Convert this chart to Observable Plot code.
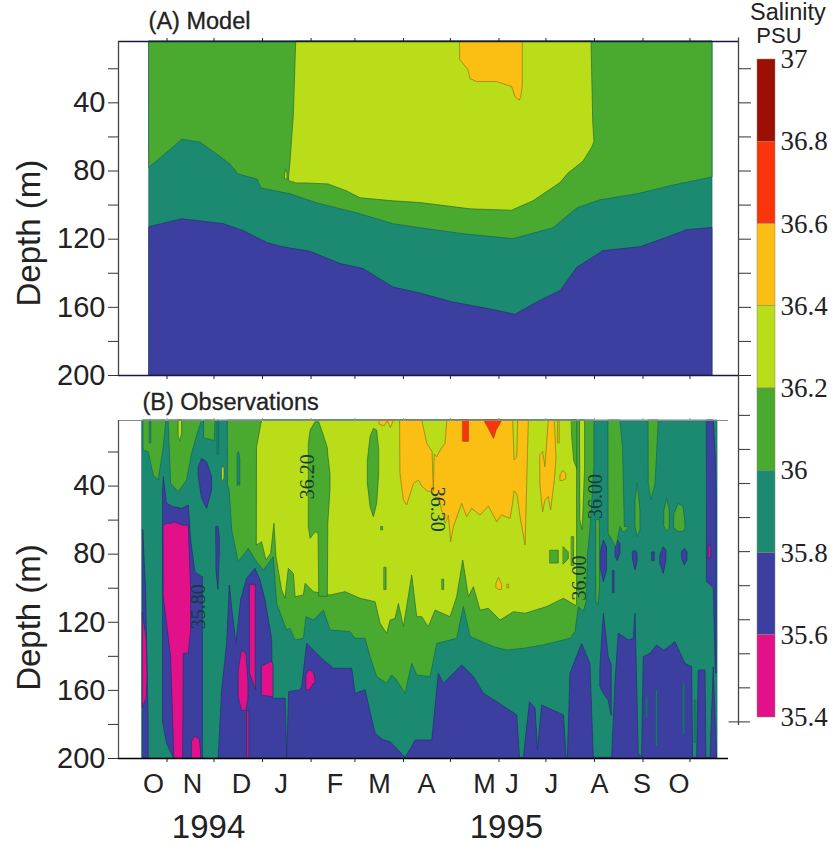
<!DOCTYPE html>
<html>
<head>
<meta charset="utf-8">
<script src="https://cdn.jsdelivr.net/npm/d3@7"></script>
<script src="https://cdn.jsdelivr.net/npm/@observablehq/plot@0.6"></script>
<style>
html,body{margin:0;padding:0;background:#fff;}
#chart{position:relative;width:833px;height:844px;overflow:hidden;}
</style>
</head>
<body>
<div id="chart"></div>
<script>
// x = days since 1 Oct 1994, depth in metres; every feature lists [day, upper depth, lower depth]
const monthStarts = [31,61,92,123,151,182,212,243,273,304,335,365];
const monthLabels = ["O","N","D","J","F","M","A","M","J","J","A","S","O"];
const monthLabelDays = [22.4,47.3,78.6,104,138.3,166.7,196.7,233.8,251.3,276.6,307.2,334.4,358];
const years = ["1994","1995"];
const yearDays = [57.5,247.8];
const depthTicks = [20,40,60,80,100,120,140,160,180,200];

const LEVELS = [37,36.8,36.6,36.4,36.2,36,35.8,35.6,35.4];
const levelLabels = ["37","36.8","36.6","36.4","36.2","36","35.8","35.6","35.4"];
const C = {dark:"#9c0f05",red:"#fb340c",orange:"#fbbe12",lime:"#b9dd18",green:"#4aa92f",teal:"#1b8a70",blue:"#3c3f9f",pink:"#e2118a"};
const bandColors = [C.dark,C.red,C.orange,C.lime,C.green,C.teal,C.blue,C.pink];

// Panel A (model)
const modelBase = [[19.8,4,200],[379.4,4,200]];
const modelGreen = [[19.8,4,78],[26.8,4,72.7],[40.9,4,61.6],[52.4,4,63.4],[63.2,4,70.4],[71.5,4,76.2],[76.6,4,82],[88.8,4,85],[91.3,4,90.2],[109.9,4,93.7],[127,4,99],[154.6,4,105.4],[175.6,4,111.2],[192.9,4,113.6],[220.4,4,117.1],[252.3,4,120],[277.8,4,113.6],[293.2,4,101.9],[307.8,4,97.2],[331.5,4,93.7],[354.5,4,88.5],[379.4,4,83.8]];
const modelBlue = [[19.8,113,200],[40.9,108.3,200],[67.2,111.2,200],[80,115.3,200],[94.9,122.2,200],[105,124.7,200],[122.6,127.4,200],[141.8,134.6,200],[156.5,137.5,200],[175.6,148.4,200],[192.9,151.9,200],[214,157.2,200],[235.7,160.9,200],[253.5,164.4,200],[267.4,157.2,200],[282.4,150.4,200],[293,136.8,200],[309.8,127,200],[333.4,124.7,200],[350.4,119.2,200],[363,114.7,200],[379.4,113.4,200]];
const modelLime = [[108.8,85,85],[109.9,74.5,86.5],[112,47,86.7],[113.5,4,87.3],[120.5,4,87.3],[134.2,4,87.9],[146.1,4,92],[154.6,4,96],[175.6,4,97.8],[192.9,4,98.8],[224.8,4,102.5],[251.4,4,103.3],[265,4,97.8],[282.3,4,87.1],[287.4,4,81.5],[297,4,74.5],[302.1,4,67],[303.2,51,65],[304,62.8,62.8]];
const modelLimeSpeck = [[106.2,84,84],[107,79,85],[108,81.5,85]];
const modelOrange = [[218.4,4,15],[223.5,4,20.8],[224.8,4,26],[229,4,27.8],[241.8,4,27.8],[251.4,4,30.7],[253.5,4,36.5],[256.3,4,38.8],[257.3,4,36.5],[258.2,4,30]];

// Panel B (observations)
const obsBase = [[15.3,1.5,200],[382.6,1.5,200]];
const obsBlueMain = [[64,200,200],[66.2,160,200],[69.4,132.6,200],[71.1,98.4,200],[72.8,113,200],[75.3,132.6,200],[78.3,107.2,200],[82.1,94.5,200],[87.5,88.6,200],[90.7,95.5,200],[93.9,107.2,200],[98.1,129.7,200],[98.7,164.9,200],[105.6,164.9,200],[106.8,165,200],[107.7,200,200],[109,161,200],[116.2,160,200],[117.3,158,200],[120.5,132.7,200],[124.8,136.6,200],[130.1,141.5,200],[137.6,147.3,200],[149.3,147.3,200],[151.4,162,200],[157.8,160,200],[164.2,185.5,200],[169.5,189.4,200],[173.8,190.4,200],[183.3,199.6,200],[187.6,193.3,200],[189.7,189.4,200],[200.4,189.4,200],[204.6,150.3,200],[207.8,156.1,200],[219.5,145.4,200],[227,152.2,200],[233.4,162,200],[241.9,166.9,200],[254.7,174.7,200],[256.4,199.6,200],[258.9,199.6,200],[262.8,166.9,200],[266.4,170.8,200],[267.9,195.3,200],[270.6,168.9,200],[284.5,174.7,200],[286.2,199.6,200],[287,199.6,200],[288.7,150.3,200],[296.1,132.7,200],[301.4,144.4,200],[303.6,199.6,200],[304.6,199.6,200],[315.3,199.6,200],[317.4,156,200],[319.5,126.8,200],[322.7,128.7,200],[325.9,130.7,200],[329.1,129.7,200],[330.2,115,200],[332.3,197.2,200],[334.4,199.6,200],[335.5,140.5,200],[339.8,138.5,200],[344,133.6,200],[348.3,136.6,200],[350.4,135.6,200],[355.7,131.7,200],[362.1,144.4,200],[366.4,146.4,200],[367,199.6,200],[369.6,199.6,200],[370.6,148.3,200],[374.9,148.3,200],[375.5,199.6,200],[378.1,199.6,200],[380.2,146.4,200],[382.3,199.6,200]];
const obsBlueOther = [
  [[15.8,66,200],[17.6,101,200],[19.3,179.6,200]],
  [[28.5,42.6,179.6],[28.9,34.8,180.6],[31,50.4,191.3],[35.3,52.4,200],[40.6,53.4,200],[44.9,51.4,200],[46.4,72,200],[49.1,90.6,200],[53.4,93.5,200],[53.9,93.5,200]],
  [[51.3,28.9,34.8],[53.4,24,47.5],[56.6,26,53.4],[59.8,34.8,42.6]],
  [[62.6,64,90],[63.8,64,101],[64.7,70,80]],
  [[307.8,146.4,158],[310,115,162],[313.1,140.5,166],[315,145,175]],
  [[376,1.5,96.5],[378.5,1.5,98.5],[380.2,1.5,100],[381.5,23,150],[382.1,50,150]],
  [[307.8,79.8,87.6],[310,72,96.5],[312,75.9,89.6]],
  [[317.6,75.9,81.8],[318.9,72,84],[320.6,74,79.8]],
  [[316,90,103],[316.8,90,103]],
  [[328.7,78.8,83.7],[330.2,77.9,89.6],[331.5,79.8,84.7]],
  [[341,79,84],[342.5,79,84]],
  [[346.1,80.8,85.7],[348.3,75.9,91.6],[350,77.9,83.7]],
  [[360,78.8,82.8],[361.7,76.9,86.7],[363.4,78.8,83.7]]
];
const obsTealSlits = [
  [[337.3,164,176],[338,164,176]],
  [[343.6,160,193],[344.3,160,193]],
  [[361,156,186],[361.7,156,186]],
  [[368.3,166,191],[369,166,191]],
  [[76.2,21,40],[77,20,38],[77.8,24,40]],
  [[20.2,1.5,15],[20.9,1.5,15]],
  [[63.5,1.5,22],[64.3,1.5,22]]
];
const obsPink = [
  [[15.5,115,170],[18,130,165],[18.5,150,152]],
  [[28.9,63.2,105],[31,62.2,120.9],[33.6,62.2,140.5],[35.7,61.2,200],[41.3,63.2,200],[41.7,63.2,138.5],[44.9,63.2,138.5],[46.4,101.3,124.8]],
  [[47,190,200],[49,187,200],[52,189,200],[53,200,200]],
  [[76.8,148,164],[78.9,136.5,172],[81.7,138.5,172],[83,155,165]],
  [[82.4,172,200],[83.6,172,200]],
  [[84,98,150],[87.7,98,160]],
  [[91.7,146,163],[98,143,164],[99,145,164]],
  [[120.1,151,160],[122,148,160],[125,150,156],[125.9,155,156]],
  [[377,75,83],[377.8,74,83],[378.5,77,81]]
];
const obsGreenMain = [[70,1.5,40],[71,1.5,42.6],[72.6,1.5,66.1],[76.8,1.5,84.7],[83.2,1.5,76.9],[88.5,1.5,84.7],[92.8,1.5,89.6],[99.2,1.5,81.8],[101.3,1.5,109.1],[107.7,1.5,124.8],[109.9,1.5,123.9],[113.1,1.5,130.7],[118.4,1.5,129.7],[120.1,1.5,117],[124.8,1.5,119],[131.2,1.5,113.1],[135.4,1.5,124.8],[148.2,1.5,125.8],[151.4,1.5,129.7],[157.8,1.5,129.7],[161,1.5,140.5],[165.2,1.5,152.2],[171.6,1.5,156.1],[174.8,1.5,151.2],[178,1.5,154.2],[183.3,1.5,162],[187.6,1.5,144.4],[190.8,1.5,151.2],[199.3,1.5,152.2],[203.6,1.5,132.7],[216.3,1.5,129.7],[220.6,1.5,111.1],[224.9,1.5,128.7],[239.8,1.5,134.6],[248.3,1.5,136.6],[258.9,1.5,135.6],[271.7,1.5,133.6],[288.7,1.5,129.7],[291.9,1.5,125.8],[294,1.5,111],[297.2,1.5,114],[299.3,1.5,107],[299.7,1.5,81.8],[301.4,1.5,66.1],[304,1.5,29]];
const obsGreenOnTeal = [
  [[16.1,1.5,19.1],[19.3,1.5,20.1],[22.5,1.5,33.8],[25.7,1.5,36.7],[28.9,1.5,17.2],[30.4,1.5,3.5]],
  [[32.1,1.5,3.5],[33.6,1.5,38.7],[38.5,1.5,43.6],[43.8,1.5,36.7],[47,1.5,21.1],[50.6,1.5,9.3],[53.4,1.5,1.5]],
  [[54.9,1.5,12],[61.5,1.5,13.5],[62,1.5,1.5]],
  [[305.3,60,108],[306.5,60,110],[307.5,60,100]],
  [[313.1,1.5,68],[318,1.5,76],[320.6,1.5,64],[322.3,19,67],[323.4,64,67],[325.9,64,65]],
  [[330.2,48.5,64],[331.7,38.7,70],[333.4,54.4,66]],
  [[338.7,1.5,38.7],[340.4,1.5,48.5],[343,1.5,38.7],[345.1,1.5,1.5]],
  [[348.7,54.4,64],[350.4,47.5,67],[352.1,54.4,65]],
  [[355.1,56.3,65],[357.9,50.5,67],[361,52.4,67],[362.1,62,65]]
];
const obsLimeMain = [[88.5,17.2,74.9],[91.7,1.5,73],[94.5,1.5,83.7],[97.5,1.5,79.8],[99.6,1.5,62.2],[100.9,1.5,81.7],[104.5,1.5,101.3],[106.6,1.5,106.2],[108.8,1.5,88.6],[112,1.5,91.6],[113.1,1.5,105.3],[118.4,1.5,104.3],[119.5,1.5,97.4],[124.8,1.5,102.3],[135.4,1.5,104.3],[145,1.5,102.3],[154.6,1.5,106.2],[164.2,1.5,108.2],[167.4,1.5,120.9],[171.6,1.5,126.8],[173.8,1.5,119],[177,1.5,118],[179.1,1.5,109.2],[182.3,1.5,122.9],[187.6,1.5,92.5],[190.8,1.5,117],[194,1.5,117],[198.2,1.5,122.9],[202.5,1.5,113.1],[212.1,1.5,117],[216.3,1.5,105.3],[220.2,1.5,83.7],[223.8,1.5,105.3],[227,1.5,99.4],[231.2,1.5,113.1],[236.6,1.5,112.1],[244,1.5,119],[252.5,1.5,114.1],[260,1.5,115],[273.8,1.5,111.1],[284.5,1.5,106.2],[291.9,1.5,110.2],[292.9,1.5,110]];
const obsLimeOther = [
  [[38.5,1.5,11],[39.5,1.5,14],[40.6,1.5,9]],
  [[66.2,30,36],[67,28,38],[67.7,30,35]],
  [[295,1.5,60],[296.5,1.5,66],[298,1.5,30]]
];
const obsGreenOnLime = [
  [[121.6,15.2,64.2],[122.7,7.4,71],[125.9,2.5,67.1],[127.8,2.5,68],[128.2,2.5,105],[132.2,13.3,105],[133.7,18,105],[134,22,62],[135.4,33,42]],
  [[159.3,25,38.7],[161,11.3,52.4],[163.1,6.4,58.3],[165.2,7.4,50.5],[166.5,19,32.9]],
  [[170,88,101],[171.2,88,101]],
  [[168,64,66],[169,64,66]],
  [[207,95,101],[208,95,101]],
  [[275.9,78,85.5],[281.2,78,85.5]],
  [[284.4,76,86],[287.6,79,83]],
  [[289.7,70,87],[291,70,87]],
  [[289.7,1.5,10],[291,1.5,25],[293,1.5,30]]
];
const obsOrangeMain = [[180.1,1.5,32.9],[182.3,1.5,48.5],[184.4,1.5,51.4],[188.7,1.5,38.7],[191.9,1.5,36.8],[194,1.5,40.3],[197.2,15.2,43],[200.6,20,44],[201.4,43,44.6],[202,21.5,45.5],[203.6,23.1,47.5],[205.7,19.2,50.5],[208.9,15.2,62.2],[210,1.5,59.9],[211,1.5,57.3],[212.5,1.5,73],[214.2,1.5,64.2],[219.5,1.5,50.5],[222.7,1.5,58.3],[225.9,1.5,53.4],[231.2,1.5,57.3],[236.6,1.5,52],[241.9,1.5,61.2],[245.1,1.5,57.3],[250.4,1.5,59.3],[252.1,1.5,50],[253,25,43],[254.7,23,45],[255.3,1.5,48],[256.8,1.5,58.3],[260,1.5,75],[262.1,1.5,1.5]];
const obsOrangeOther = [
  [[167,1.5,4],[170,1.5,5],[172,1.5,2],[174,1.5,6],[176,1.5,1.5]],
  [[269.5,22,39.7],[271.2,20,55.4],[272.7,29,48.5],[274.8,1.5,46.5],[276.3,1.5,54.4],[278.7,1.5,36.8],[279.7,23,25]],
  [[281,1.5,15],[281.8,1.5,15]],
  [[282.5,33.5,37],[284,31,37],[286,33,36]],
  [[241.5,97,100],[243,94,101],[245,98,101]],
  [[248.6,98,100],[249.6,98,100]]
];
const obsRed = [
  [[220.2,1.5,14],[223.8,1.5,14]],
  [[234.4,1.5,3],[236.6,1.5,6.4],[239.8,1.5,12.3],[241.5,1.5,7.4],[245.1,1.5,1.5]]
];
const contourLabels = ["35.80","36.20","36.30","36.00","36.00"];
const contourDays = [51,120.7,203.7,304.6,294.4];
const contourDepths = [110.9,34.5,53.6,46.2,94];
const contourRotate = [-90,-90,90,-90,-90];

const rightTicksB = [-1.5,18.5,38.5,58.5,78.5,98.5,118.5,138.5,158.5,178.5];

const feature = (list, fill, stroke) => {
  const rows = list.flatMap((f,i) => f.map(([x,y1,y2]) => ({x,y1,y2,id:i})));
  return Plot.areaY(rows,{x:"x",y1:"y1",y2:"y2",z:"id",fill,stroke,strokeWidth:0.7,curve:"linear"});
};
const LINE = {green:"#2a6a3a",teal:"#17645c",orange:"#8a7a10",blue:"#22306e",red:"#a83a0a"};
const FONT = "'Liberation Sans',Arial,sans-serif";
const svgStyle = {position:"absolute",left:0,top:0,background:"transparent",fontFamily:FONT,overflow:"visible"};
const root = document.getElementById("chart");

function panel(marginTop, marginBottom, domain, marks){
  return Plot.plot({
    width:833,height:844,marginLeft:118,marginRight:95,marginTop,marginBottom,
    style:svgStyle,
    x:{domain:[0,396],axis:null},
    y:{domain,reverse:true,axis:null},
    marks
  });
}
const yAxisLeft = () => Plot.axisY({anchor:"left",ticks:depthTicks,tickSize:10,tickPadding:3,tickFormat:d=>d%40?"":d,label:null,fontSize:29,stroke:"#333",color:"#222"});

const depthLabel = y => Plot.text(["Depth (m)"],{x:[-56.8],y:[y],rotate:-90,fontSize:33,fill:"#222",text:d=>d});

// Panel A
root.append(panel(41,469,[4,200],[
  feature([modelBase],C.teal,LINE.teal),
  feature([modelBlue],C.blue,LINE.blue),
  feature([modelGreen],C.green,LINE.teal),
  feature([modelLime,modelLimeSpeck],C.lime,LINE.green),
  feature([modelOrange],C.orange,LINE.orange),
  Plot.ruleY([4,200],{x1:0,x2:396,stroke:"#1a1a40",strokeWidth:1.3}),
  Plot.ruleX([0],{y1:4,y2:200,stroke:"#444",strokeWidth:1.3}),
  Plot.ruleX([396],{y1:2,y2:200,stroke:"#444",strokeWidth:1.3}),
  Plot.axisX({anchor:"top",ticks:monthStarts,tickSize:4,tickFormat:()=>"",label:null,stroke:"#222"}),
  Plot.axisX({anchor:"bottom",ticks:monthStarts,tickSize:4,tickFormat:()=>"",label:null,stroke:"#222"}),
  yAxisLeft(),
  Plot.axisY({anchor:"right",ticks:depthTicks,tickSize:12,tickFormat:()=>"",label:null,stroke:"#333"}),
  depthLabel(116.5),
  Plot.text(["(A) Model"],{x:[19.2],y:[-7.7],textAnchor:"start",fontSize:23.5,fill:"#222",stroke:"#222",strokeWidth:0.3})
]));

// Panel B
root.append(panel(420,86,[1.5,200],[
  feature([obsBase],C.teal,LINE.teal),
  feature([obsBlueMain,...obsBlueOther],C.blue,LINE.blue),
  feature(obsPink,C.pink,LINE.blue),
  feature([obsGreenMain,...obsGreenOnTeal],C.green,LINE.teal),
  feature(obsTealSlits,C.teal,LINE.teal),
  feature([obsLimeMain,...obsLimeOther],C.lime,LINE.green),
  feature(obsGreenOnLime,C.green,LINE.green),
  feature([obsOrangeMain,...obsOrangeOther],C.orange,LINE.orange),
  feature(obsRed,C.red,LINE.red),
  Plot.text(contourLabels,{x:contourDays,y:contourDepths,rotate:(d,i)=>contourRotate[i],text:d=>d,fontSize:20,fill:"#143c38",fontFamily:"'Liberation Serif',serif"}),
  Plot.ruleY([1.5],{x1:0,x2:389.6,stroke:"#888",strokeWidth:1}),
  Plot.ruleY([200],{x1:0,x2:389.6,stroke:"#000",strokeWidth:1.6}),
  Plot.ruleX([0],{y1:1.5,y2:200,stroke:"#555",strokeWidth:1.3}),
  Plot.ruleX([396],{y1:-25,y2:180.6,stroke:"#444",strokeWidth:1.3}),
  Plot.ruleY(rightTicksB,{x1:396,x2:403.7,stroke:"#444",strokeWidth:1.1}),
  Plot.ruleY([178.5],{x1:390,x2:396,stroke:"#444",strokeWidth:1.1}),
  Plot.axisX({anchor:"top",ticks:monthStarts,tickSize:3,tickFormat:()=>"",label:null,stroke:"#999"}),
  Plot.axisX({anchor:"bottom",ticks:monthStarts,tickSize:4,tickFormat:()=>"",label:null,stroke:"#222"}),
  yAxisLeft(),
  depthLabel(117.2),
  Plot.text(["(B) Observations"],{x:[15.3],y:[-9.1],textAnchor:"start",fontSize:23.5,fill:"#222",stroke:"#222",strokeWidth:0.3}),
  Plot.text(monthLabels,{x:monthLabelDays,y:monthLabels.map(()=>215.2),text:d=>d,fontSize:27,fill:"#222"}),
  Plot.text(years,{x:yearDays,y:years.map(()=>240.5),text:d=>d,fontSize:33,fill:"#222"})
]));

// Colour bar
const bands = bandColors.map((fill,i)=>({fill,top:LEVELS[i],bottom:LEVELS[i+1],x1:0,x2:1}));
root.append(Plot.plot({
  width:833,height:844,marginLeft:757,marginRight:58,marginTop:59,marginBottom:127,
  style:svgStyle,
  x:{domain:[0,1],axis:null},
  y:{domain:[35.4,37],axis:null},
  marks:[
    Plot.rect(bands,{x1:"x1",x2:"x2",y1:"bottom",y2:"top",fill:"fill",stroke:"#8a8a6a",strokeWidth:0.5}),
    Plot.text(levelLabels,{x:LEVELS.map(()=>1),y:LEVELS,text:d=>d,textAnchor:"start",dx:5,fontSize:27,fill:"#222",fontFamily:"'Liberation Serif',serif"}),
    Plot.text(["Salinity"],{x:[1.69],y:[37.114],fontSize:23.5,fill:"#222",text:d=>d}),
    Plot.text(["PSU"],{x:[1.19],y:[37.058],fontSize:22,fill:"#222",text:d=>d})
  ]
}));
</script>
</body>
</html>
